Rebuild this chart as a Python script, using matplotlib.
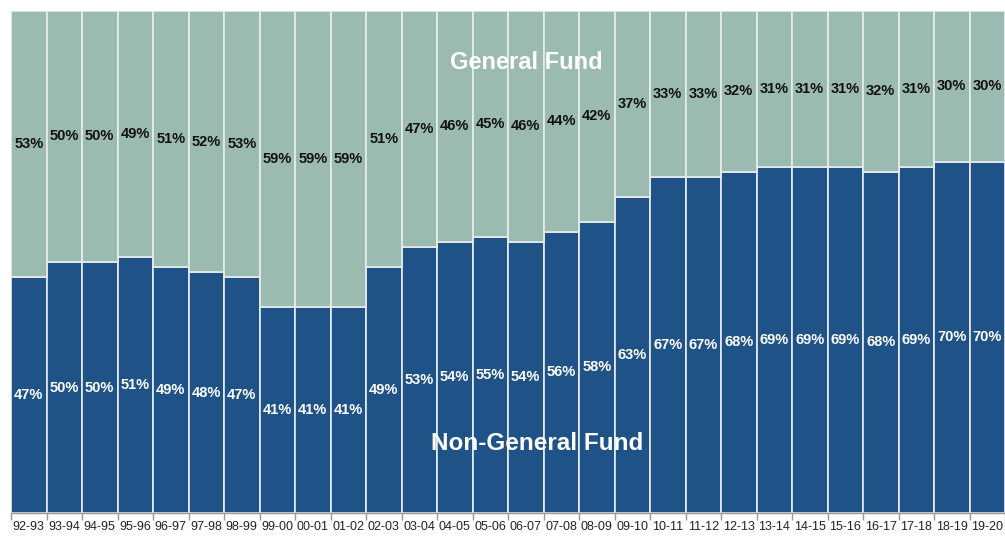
import matplotlib
matplotlib.use('Agg')

import matplotlib.pyplot as plt
import numpy as np

plt.rcParams.update({
    'font.family': ['Liberation Sans Narrow', 'Liberation Sans', 'DejaVu Sans'],
    'figure.facecolor': 'white',
})

_BLUE  = '#1f5388'
_GREEN = '#9bbbb0'

years = ['92-93', '93-94', '94-95', '95-96', '96-97', '97-98', '98-99', '99-00',
         '00-01', '01-02', '02-03', '03-04', '04-05', '05-06', '06-07', '07-08',
         '08-09', '09-10', '10-11', '11-12', '12-13', '13-14', '14-15', '15-16',
         '16-17', '17-18', '18-19', '19-20']
non_general = [47, 50, 50, 51, 49, 48, 47, 41, 41, 41, 49, 53, 54, 55, 54, 56,
               58, 63, 67, 67, 68, 69, 69, 69, 68, 69, 70, 70]
general = [53, 50, 50, 49, 51, 52, 53, 59, 59, 59, 51, 47, 46, 45, 46, 44,
           42, 37, 33, 33, 32, 31, 31, 31, 32, 31, 30, 30]

fig = plt.figure(figsize=(10.05, 5.4), dpi=100)
ax = fig.add_axes([11 / 1005, 1 - 513 / 540, 1 - 11 / 1005, 502 / 540])

x = np.arange(len(years))
ng = np.array(non_general)
gf = np.array(general)

ax.bar(x, ng, width=1.0, color=_BLUE, edgecolor='#e8ecef', linewidth=1.2, zorder=2)
ax.bar(x, gf, width=1.0, bottom=ng, color=_GREEN, edgecolor='#e8ecef',
       linewidth=1.2, zorder=2)

# percentage labels centred in each segment
for xi, a, b in zip(x, ng, gf):
    ax.text(xi, a / 2, f'{a}%', ha='center', va='center', color='white',
            fontsize=10.5, fontweight='bold', zorder=3)
    ax.text(xi, a + b / 2, f'{b}%', ha='center', va='center', color='#111111',
            fontsize=10.5, fontweight='bold', zorder=3)

ax.text(0.518, 0.898, 'General Fund', transform=ax.transAxes, ha='center',
        va='center', color='white', fontsize=17, fontweight='bold', zorder=4,
        family=['Liberation Sans', 'DejaVu Sans'])
ax.text(0.529, 0.139, 'Non-General Fund', transform=ax.transAxes, ha='center',
        va='center', color='white', fontsize=17.5, fontweight='bold', zorder=4,
        family=['Liberation Sans', 'DejaVu Sans'])

ax.set_xlim(-0.5, 27.34)
ax.set_ylim(0, 100)
ax.set_xticks(x)
ax.set_xticklabels(years, fontsize=9, family=['Liberation Sans', 'DejaVu Sans'])
ax.set_xticks(np.arange(len(years) + 1) - 0.5, minor=True)
ax.tick_params(axis='x', which='major', length=0, pad=6, colors='#222222')
ax.tick_params(axis='x', which='minor', length=5, color='#999999', width=1)
ax.set_yticks([])
for s in ['top', 'right', 'left']:
    ax.spines[s].set_visible(False)
ax.spines['bottom'].set_color('#999999')
ax.spines['bottom'].set_linewidth(1)

fig.savefig('out.png', dpi=100)
